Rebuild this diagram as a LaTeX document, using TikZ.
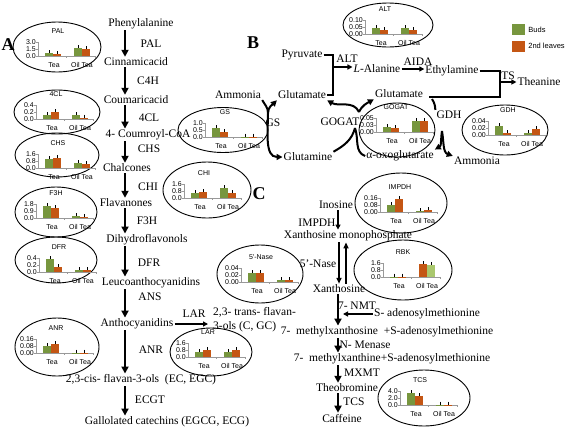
\documentclass[tikz,border=0pt]{standalone}
\usepackage{fontspec}
\setmainfont{Liberation Serif}
\newfontfamily\chartfont{Liberation Sans}
\usetikzlibrary{arrows.meta,shapes.geometric,positioning}

% small bar chart inside an ellipse
\newcommand{\chartframe}[5]{%
  \node[charttext] (#1title) at (0,-17) {#2};
  \node[charttext, anchor=east] (#1ya) at (-22,-6) {#3};
  \node[charttext, anchor=east] (#1yb) at (-22,1) {#4};
  \node[charttext, anchor=east] (#1yc) at (-22,8) {#5};
  \draw[chartaxis] (-20,-6) -- (-20,8) -- (37,8);
  \foreach \ty in {-6,1,8} \draw[chartaxis] (-22,\ty) -- (-20,\ty);
  \foreach \tx in {8.5,37} \draw[chartaxis] (\tx,8) -- (\tx,10);
  \node[charttext] (#1tea) at (-4,17) {Tea};
  \node[charttext] (#1oil) at (24,17) {Oil Tea};
}
\newcommand{\chartbar}[3]{%
  \fill[#3] (#1,8) rectangle ({#1+8},{8-#2});
  \draw[errbar] ({#1+4},{5-#2}) -- ({#1+4},{8-#2});
}
\newcommand{\chartbars}[4]{%
  \chartbar{-13}{#1}{budbar}
  \chartbar{-5}{#2}{leafbar}
  \chartbar{16}{#3}{budbar}
  \chartbar{24}{#4}{leafbar}
}

\begin{document}
\begin{tikzpicture}[x=1pt, y=-1pt,
    compound/.style={font=\fontsize{11.5}{14}\selectfont, inner sep=1pt},
    enzyme/.style={font=\fontsize{11.5}{14}\selectfont, inner sep=1pt},
    panel/.style={font=\fontsize{18}{18}\selectfont\bfseries, inner sep=0pt},
    ring/.style={draw, ellipse, line width=0.9pt, inner sep=0pt},
    charttext/.style={font=\chartfont\fontsize{7}{8}\selectfont, inner sep=0pt},
    chartaxis/.style={draw=gray!80, line width=0.7pt},
    budbar/.style={fill=budgreen},
    leafbar/.style={fill=leaforange},
    paleleafbar/.style={fill=paleleaf},
    errbar/.style={line width=0.9pt},
    keybox/.style={minimum width=13, minimum height=11, inner sep=0pt},
    keytext/.style={font=\chartfont\fontsize{7.5}{8}\selectfont, inner sep=0pt},
    pathway/.style={-{Triangle[length=7pt,width=7pt]}, line width=1.8pt},
    twoway/.style={-{Triangle[length=6pt,width=5pt]}, line width=1.8pt},
    react/.style={-{Triangle[length=5pt,width=5pt]}, line width=1.4pt},
    bracket/.style={line width=1.8pt},
    curve/.style={line width=2pt},
    curvetip/.style={curve, -{Triangle[length=6pt,width=6pt]}}]

  % Define colors
  \definecolor{budgreen}{RGB}{119,150,62}
  \definecolor{leaforange}{RGB}{196,86,20}
  \definecolor{paleleaf}{RGB}{170,200,110}

  \useasboundingbox (0,0) rectangle (567,429);

  % Panel letters
  \node[panel] (panA) at (8,45) {A};
  \node[panel] (panB) at (253,43) {B};
  \node[panel] (panC) at (259,194) {C};

  % A: catechin pathway
  \coordinate (colA) at (125,0);
  \node[compound] (phe) at (141,24) {Phenylalanine};
  \node[compound] (cin) at (136,62) {Cinnamicacid};
  \node[compound] (cou) at (136,100) {Coumaricacid};
  \node[compound] (coa) at (148,135) {4- Coumroyl-CoA};
  \node[compound] (chal) at (127,168) {Chalcones};
  \node[compound] (flav) at (126,203) {Flavanones};
  \node[compound] (dhf) at (147,240) {Dihydroflavonols};
  \node[compound] (leuco) at (151,283) {Leucoanthocyanidins};
  \node[compound] (antho) at (137,324) {Anthocyanidins};
  \node[compound, anchor=west, align=left] (trans) at (212,320) {2,3- trans- flavan-\\3-ols (C, GC)};
  \node[compound] (cis) at (141,380) {2,3-cis- flavan-3-ols\ \ (EC, EGC)};
  \node[compound] (gall) at (167,422) {Gallolated catechins (EGCG, ECG)};

  \node[enzyme] (pal) at (151,44) {PAL};
  \node[enzyme] (c4h) at (148,81) {C4H};
  \node[enzyme] (fourcl) at (149,118) {4CL};
  \node[enzyme] (chs) at (149,149) {CHS};
  \node[enzyme] (chi) at (148,187) {CHI};
  \node[enzyme] (f3h) at (147,221) {F3H};
  \node[enzyme] (dfr) at (149,263) {DFR};
  \node[enzyme] (ans) at (150,297) {ANS};
  \node[enzyme] (lar) at (194,314) {LAR};
  \node[enzyme] (anr) at (151,350) {ANR};
  \node[enzyme] (ecgt) at (150,400) {ECGT};

  \draw[pathway] (phe.south -| colA) -- (cin.north -| colA);
  \draw[pathway] (cin.south -| colA) -- (cou.north -| colA);
  \draw[pathway] (cou.south -| colA) -- (coa.north -| colA);
  \draw[pathway] (coa.south -| colA) -- (chal.north -| colA);
  \draw[pathway] (chal.south -| colA) -- (flav.north -| colA);
  \draw[pathway] (flav.south -| colA) -- (dhf.north -| colA);
  \draw[pathway] (dhf.south -| colA) -- (leuco.north -| colA);
  \draw[pathway] (leuco.south -| colA) -- (antho.north -| colA);
  \draw[pathway] (antho.south -| colA) -- (cis.north -| colA);
  \draw[pathway] (cis.south -| colA) -- (gall.north -| colA);
  \draw[react, shorten >=4pt] (antho.east) -- (antho.east -| trans.west);

  % B: theanine pathway
  \node[compound] (pyr) at (302,55) {Pyruvate};
  \node[compound] (alan) at (377,69) {\textit{L}-Alanine};
  \node[compound] (ethyl) at (452,71) {Ethylamine};
  \node[compound] (thea) at (539,82) {Theanine};
  \node[compound] (amm1) at (238,95) {Ammonia};
  \node[compound] (glul) at (302,95) {Glutamate};
  \node[compound] (glur) at (399,94) {Glutamate};
  \node[compound] (gln) at (308,157) {Glutamine};
  \node[compound] (oxo) at (400,156) {α-oxoglutarate};
  \node[compound] (amm2) at (477,161) {Ammonia};

  \node[enzyme] (alt) at (347,59) {ALT};
  \node[enzyme] (aida) at (418,62) {AIDA};
  \node[enzyme] (ts) at (508,76) {TS};
  \node[enzyme] (gs) at (273,123) {GS};
  \node[enzyme] (gogat) at (340,122) {GOGAT};
  \node[enzyme] (gdh) at (449,115) {GDH};

  \coordinate (altjoin) at (333,67);
  \draw[bracket] (pyr.east) -| (altjoin) |- (glul.east);
  \draw[react] (altjoin) -- (altjoin -| alan.west);
  \draw[react] (alan.east) -- (alan.east -| ethyl.west);
  \coordinate (tsjoin) at (500,82);
  \draw[bracket] (ethyl.east) -| (tsjoin) |- ([xshift=5pt,yshift=-3pt]glur.east);
  \draw[react] (tsjoin) -- (thea.west);

  \coordinate (gsfork) at (268,113);
  \draw[curve] (amm1.south east) to[out=-60,in=90] (gsfork);
  \draw[curvetip] (gsfork) to[out=90,in=-135] (glul.south west);
  \draw[curvetip] (gsfork) to[out=-90,in=180] (gln.west);

  \coordinate (gogtop) at (359,112);
  \coordinate (gogbot) at (355,128);
  \draw[curvetip] (gogtop) to[out=115,in=-30] (glul.south east);
  \draw[curvetip] (gogtop) to[out=65,in=-150] (glur.south west);
  \draw[curve] (gogbot) to[out=-105,in=30] (gln.north east);
  \draw[curve] (gogbot) to[out=-70,in=160] (oxo.west);

  \coordinate (gdhin) at (432,99);
  \coordinate (gdhfork) at (442,131);
  \draw[curve] (gdhin) to[bend left=15] (gdh.north west);
  \draw[curvetip] (gdhfork) to[out=-100,in=30] (oxo.north east);
  \draw[curvetip] (gdhfork) to[out=-80,in=160] (amm2.north west);

  % C: caffeine pathway
  \coordinate (colC) at (338,0);
  \coordinate (nasedown) at (339,0);
  \coordinate (naseup) at (346,0);
  \coordinate (samhit) at (343,314);
  \node[compound] (ino) at (336,205) {Inosine};
  \node[compound] (xmp) at (348,236) {Xanthosine monophosphate};
  \node[compound] (xao) at (339,289) {Xanthosine};
  \node[compound] (sam) at (427,314) {S- adenosylmethionine};
  \node[compound] (mxr) at (387,332) {7-\ \ methylxanthosine\ \ +S-adenosylmethionine};
  \node[compound] (mxa) at (392,359) {7-\ \ methylxanthine+S-adenosylmethionine};
  \node[compound] (theo) at (347,388) {Theobromine};
  \node[compound] (caf) at (342,418) {Caffeine};

  \node[enzyme] (impdh) at (317,223) {IMPDH};
  \node[enzyme] (nase) at (318,264) {5'-Nase};
  \node[enzyme] (nmt) at (357,306) {7- NMT};
  \node[enzyme] (menase) at (365,345) {N- Menase};
  \node[enzyme] (mxmt) at (362,373) {MXMT};
  \node[enzyme] (tcs) at (354,402) {TCS};

  \draw[react] (ino.south -| colC) -- (xmp.north -| colC);
  \draw[twoway] (xmp.south -| nasedown) -- (xao.north -| nasedown);
  \draw[twoway] (xao.north -| naseup) -- (xmp.south -| naseup);
  \draw[pathway] (xao.south -| colC) -- (mxr.north -| colC);
  \draw[react] (sam.west) -- (samhit);
  \draw[pathway] (mxr.south -| colC) -- (mxa.north -| colC);
  \draw[pathway] (mxa.south -| colC) -- (theo.north -| colC);
  \draw[pathway] (theo.south -| colC) -- (caf.north -| colC);

  % Legend
  \node[keybox, fill=budgreen] (budkey) at (518.5,29.5) {};
  \node[keytext, right=3pt of budkey] (budtext) {Buds};
  \node[keybox, fill=leaforange] (leafkey) at (518.5,46) {};
  \node[keytext, right=3pt of leafkey] (leaftext) {2nd leaves};

  % Charts
  \node[ring, minimum width=88, minimum height=50] (palring) at (57,47) {};
  \begin{scope}[shift={(58,48)}]
    \chartframe{pal}{PAL}{3.0}{1.5}{0.0}
    \chartbars{3}{2}{8}{7}
  \end{scope}

  \node[ring, minimum width=86, minimum height=44] (fourclring) at (57,112) {};
  \begin{scope}[shift={(56,111)}]
    \chartframe{fourcl}{4CL}{0.4}{0.2}{0.0}
    \chartbars{4}{7}{4}{1.5}
  \end{scope}

  \node[ring, minimum width=84, minimum height=44] (chsring) at (57,155) {};
  \begin{scope}[shift={(58,160)}]
    \chartframe{chs}{CHS}{1.6}{0.8}{0.0}
    \chartbars{9}{10}{5}{4}
  \end{scope}

  \node[ring, minimum width=82, minimum height=50] (fthring) at (56,212) {};
  \begin{scope}[shift={(56,210)}]
    \chartframe{fth}{F3H}{1.8}{0.9}{0.0}
    \chartbars{12}{10}{2}{1}
  \end{scope}

  \node[ring, minimum width=82, minimum height=46] (dfrring) at (56,260) {};
  \begin{scope}[shift={(59,264)}]
    \chartframe{dfr}{DFR}{0.4}{0.2}{0.0}
    \chartbars{13}{5}{2}{2}
  \end{scope}

  \node[ring, minimum width=84, minimum height=58] (anrring) at (57,347) {};
  \begin{scope}[shift={(56,345)}]
    \chartframe{anr}{ANR}{0.16}{0.08}{0.00}
    \chartbars{7}{9}{0.5}{0.5}
  \end{scope}

  \node[ring, minimum width=88, minimum height=56] (chiring) at (207,190) {};
  \begin{scope}[shift={(204,190)}]
    \chartframe{chi}{CHI}{1.6}{0.8}{0.0}
    \chartbars{5}{6}{10}{5}
  \end{scope}

  \node[ring, minimum width=90, minimum height=45] (gsring) at (223,130) {};
  \begin{scope}[shift={(225,129)}]
    \chartframe{gs}{GS}{1.0}{0.5}{0.0}
    \chartbars{9}{5}{0.5}{0.3}
  \end{scope}

  \node[ring, minimum width=90, minimum height=44] (altring) at (388,25) {};
  \begin{scope}[shift={(385,26)}]
    \chartframe{alt}{ALT}{0.10}{0.05}{0.00}
    \chartbars{6}{4}{6}{4}
  \end{scope}

  \node[ring, minimum width=76, minimum height=54] (gogatring) at (397,130) {};
  \begin{scope}[shift={(396,124)}]
    \chartframe{gogat}{GOGAT}{0.05}{0.03}{0.00}
    \chartbars{5}{4}{11}{11}
  \end{scope}

  \node[ring, minimum width=86, minimum height=50] (gdhring) at (505,130) {};
  \begin{scope}[shift={(508,127)}]
    \chartframe{gdh}{GDH}{0.04}{0.02}{0.00}
    \chartbars{9}{2}{2}{6}
  \end{scope}

  \node[ring, minimum width=92, minimum height=60] (impdhring) at (401,203) {};
  \begin{scope}[shift={(400,204)}]
    \chartframe{impdh}{IMPDH}{0.16}{0.08}{0.00}
    \chartbars{7}{13}{1}{2}
  \end{scope}

  \node[ring, minimum width=98, minimum height=60] (rbkring) at (403,270) {};
  \begin{scope}[shift={(403,269)}]
    \chartframe{rbk}{RBK}{1.6}{0.8}{0.0}
    \chartbar{-13}{0.4}{budbar}
    \chartbar{-5}{0.4}{leafbar}
    \chartbar{16}{13}{leafbar}
    \chartbar{24}{12}{paleleafbar}
  \end{scope}

  \node[ring, minimum width=86, minimum height=58] (nasering) at (260,274) {};
  \begin{scope}[shift={(261,274)}]
    \chartframe{nase}{5'-Nase}{0.04}{0.02}{0.00}
    \chartbars{9}{9}{2}{2}
  \end{scope}

  \node[ring, minimum width=82, minimum height=48] (larring) at (211,352) {};
  \begin{scope}[shift={(208,349)}]
    \chartframe{larc}{LAR}{1.6}{0.8}{0.0}
    \chartbars{5}{7}{5}{7}
  \end{scope}

  \node[ring, minimum width=92, minimum height=56] (tcsring) at (424,398) {};
  \begin{scope}[shift={(420,397)}]
    \chartframe{tcsc}{TCS}{4.0}{2.0}{0.0}
    \chartbars{12}{9}{0.3}{0.3}
  \end{scope}

\end{tikzpicture}
\end{document}
